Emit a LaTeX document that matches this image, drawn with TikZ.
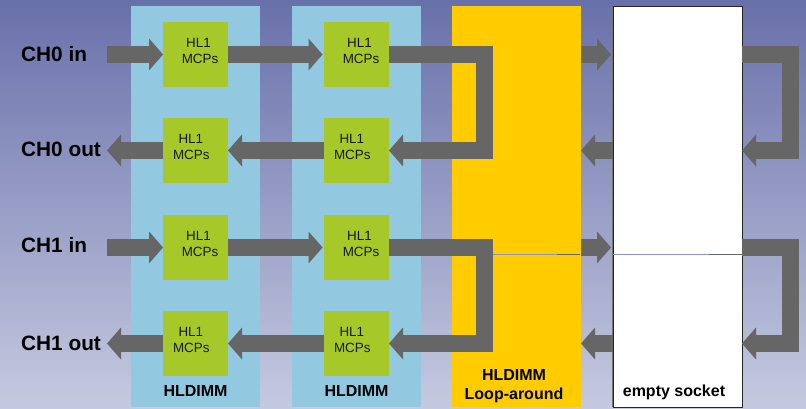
\documentclass[tikz,border=0pt]{standalone}
\usepackage{fontspec}
\setmainfont{Liberation Sans}
\usetikzlibrary{arrows.meta}
\definecolor{bgtop}{RGB}{104,112,170}
\definecolor{bgbot}{RGB}{198,202,224}
\definecolor{dimmblue}{RGB}{146,200,224}
\definecolor{mcpgreen}{RGB}{166,200,40}
\definecolor{loopyellow}{RGB}{255,204,0}
\definecolor{arrowgray}{RGB}{102,102,102}
\definecolor{thinline}{RGB}{140,146,190}
\tikzset{
  colbox/.style={anchor=north west, minimum width=129pt, minimum height=401pt, inner sep=0pt, outer sep=0pt},
  mcp/.style={anchor=north west, fill=mcpgreen, minimum width=65pt, minimum height=65pt, inner sep=0pt, outer sep=0pt},
  mcptext/.style={anchor=base, inner sep=0pt, text=black!90, font=\fontsize{13.4}{15}\selectfont},
  bigarrow/.style={draw=arrowgray, line width=17pt, line join=miter,
    -{Triangle[length=14pt,width=32pt,line width=0pt]}},
  chlabel/.style={anchor=base west, inner sep=0pt, font=\bfseries\fontsize{20.8}{24}\selectfont},
  dimmlabel/.style={anchor=base, inner sep=0pt, font=\bfseries\fontsize{16}{19}\selectfont},
}
\begin{document}
\begin{tikzpicture}[x=1pt,y=-1pt]
\useasboundingbox (0,0) rectangle (806,409);
\shade[top color=bgtop, bottom color=bgbot] (0,0) rectangle (806,409);
% columns
\node[colbox, fill=dimmblue] (d1) at (131,6) {};
\node[colbox, fill=dimmblue] (d2) at (292,6) {};
\node[colbox, fill=loopyellow] (ly) at (452,6) {};
\draw[black!55, line width=1.4pt] (612.6,7) -- (612.6,407);
\node[colbox, fill=white, draw=black!85, line width=0.8pt] (ws) at (613,6) {};
% thin lines
\draw[thinline, line width=0.7pt] (493,254) -- (557,254);
\draw[arrowgray, line width=0.7pt] (557,254) -- (580,254);
\draw[thinline, line width=0.7pt] (613,254) -- (709,254);
\draw[arrowgray, line width=0.7pt] (709,254) -- (742,254);
% MCP boxes
\node[mcp] (g11) at (163,22) {};
\node[mcp] (g21) at (163,118) {};
\node[mcp] (g31) at (163,215) {};
\node[mcp] (g41) at (163,311) {};
\node[mcp] (g12) at (324,22) {};
\node[mcp] (g22) at (324,118) {};
\node[mcp] (g32) at (324,215) {};
\node[mcp] (g42) at (324,311) {};
\foreach \g/\dh/\dm in {g11/3/4.5,g21/-4.7/-4.2,g31/3/4.5,g41/-4.7/-4.2,g12/3/4.5,g22/-4.7/-4.2,g32/3/4.5,g42/-4.7/-4.2}{
  \node[mcptext] (h\g) at ([xshift=\dh pt,yshift=-25.6pt]\g.north) {HL1};
  \node[mcptext] (m\g) at ([xshift=\dm pt,yshift=-41.4pt]\g.north) {MCPs};
}
% channel labels
\node[chlabel] (ch0in) at (21,61.7) {CH0 in};
\node[chlabel] (ch0out) at (21,156.7) {CH0 out};
\node[chlabel] (ch1in) at (21,252.7) {CH1 in};
\node[chlabel] (ch1out) at (21,350) {CH1 out};
\coordinate (in0) at (107,54.5);
\coordinate (out0) at (107,150.5);
\coordinate (in1) at (107,247.5);
\coordinate (out1) at (107,343.5);
% arrows, channel 0
\draw[bigarrow] (in0) -- (g11.west);
\draw[bigarrow] (g11.east) -- ([xshift=-1.5pt]g12.west);
\draw[bigarrow] (g12.east) -- ++(95.5,0) |- (g22.east);
\draw[bigarrow] (g22.west) -- (g21.east);
\draw[bigarrow] (g21.west) -- (out0);
\draw[bigarrow] (ly.east |- g12.east) -- ([xshift=-2pt]ws.west |- g12.east);
\draw[bigarrow] (ws.east |- g12.east) -- ++(48.5,0) |- (ws.east |- g22.east);
\draw[bigarrow] (ws.west |- g22.east) -- (ly.east |- g22.east);
% arrows, channel 1
\draw[bigarrow] (in1) -- (g31.west);
\draw[bigarrow] (g31.east) -- ([xshift=-1.5pt]g32.west);
\draw[bigarrow] (g32.east) -- ++(95.5,0) |- (g42.east);
\draw[bigarrow] (g42.west) -- (g41.east);
\draw[bigarrow] (g41.west) -- (out1);
\draw[bigarrow] (ly.east |- g32.east) -- ([xshift=-2pt]ws.west |- g32.east);
\draw[bigarrow] (ws.east |- g32.east) -- ++(48.5,0) |- (ws.east |- g42.east);
\draw[bigarrow] (ws.west |- g42.east) -- (ly.east |- g42.east);
% column labels
\node[dimmlabel] (l1) at (195.5,396) {HLDIMM};
\node[dimmlabel] (l2) at (356.5,396) {HLDIMM};
\node[dimmlabel] (l3a) at (514,380) {HLDIMM};
\node[dimmlabel] (l3b) at (514,399) {Loop-around};
\node[dimmlabel] (l4) at (674,396.7) {empty socket};
\end{tikzpicture}
\end{document}
